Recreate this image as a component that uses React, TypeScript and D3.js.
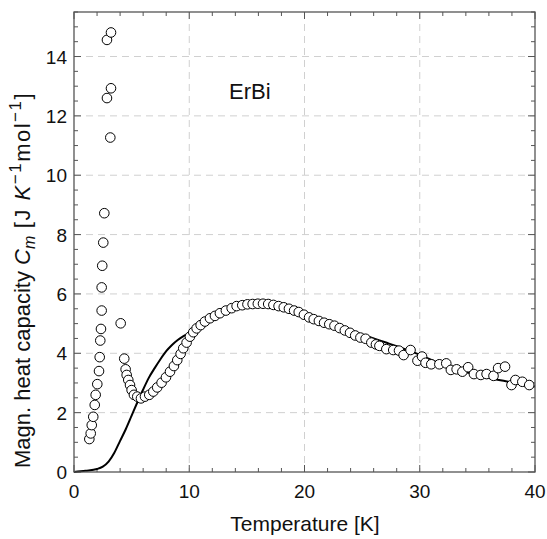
import React from "react";
import * as d3 from "d3";

// Measured magnetic heat capacity (circles): [T (K), Cm]
const measT = [1.33, 1.45, 1.54, 1.67, 1.8, 1.88, 2.02, 2.17, 2.23, 2.28, 2.34, 2.4, 2.4, 2.45, 2.54, 2.63, 2.86, 3.21, 2.86, 3.21, 3.15,
  4.05, 4.36, 4.48, 4.57, 4.71, 4.86, 5.0, 5.2, 5.49, 5.81, 6.16, 6.53, 6.88, 7.22, 7.6, 7.98, 8.33, 8.67, 8.96, 9.25, 9.48, 9.77, 10.06, 10.35, 10.64, 10.99,
  11.36, 11.8, 12.23, 12.66, 13.18, 13.68, 14.11, 14.6, 15.05, 15.5, 15.95, 16.4, 16.85, 17.3, 17.75, 18.2, 18.65, 19.1, 19.5, 19.95, 20.4, 20.8, 21.25, 21.7,
  22.15, 22.6, 23.05, 23.5, 23.95, 24.4, 24.85, 25.3, 25.8, 26.2, 26.5, 27.1, 27.7, 28.2, 28.6, 29.2, 29.8, 30.2, 30.5, 31.0, 31.7, 32.3, 32.7, 33.2, 33.7,
  34.2, 34.7, 35.3, 35.8, 36.4, 36.8, 37.4, 37.96, 38.3, 38.9, 39.5];
const measC = [1.11, 1.3, 1.58, 1.86, 2.26, 2.6, 2.96, 3.4, 3.87, 4.43, 4.82, 5.44, 6.22, 6.95, 7.73, 8.72, 12.6, 12.93, 14.56, 14.81, 11.27,
  5.01, 3.82, 3.46, 3.27, 3.1, 2.93, 2.76, 2.6, 2.54, 2.48, 2.54, 2.6, 2.71, 2.85, 3.01, 3.19, 3.38, 3.57, 3.77, 3.98, 4.17, 4.36, 4.56, 4.71, 4.84, 4.95,
  5.07, 5.18, 5.26, 5.35, 5.44, 5.52, 5.59, 5.62, 5.65, 5.66, 5.67, 5.67, 5.66, 5.63, 5.59, 5.55, 5.5, 5.44, 5.39, 5.3, 5.21, 5.15, 5.09, 5.03,
  4.98, 4.93, 4.85, 4.77, 4.69, 4.6, 4.53, 4.49, 4.36, 4.3, 4.25, 4.14, 4.11, 4.09, 3.94, 4.11, 3.75, 3.89, 3.68, 3.63, 3.63, 3.66, 3.44, 3.46, 3.38,
  3.53, 3.3, 3.27, 3.3, 3.24, 3.5, 3.55, 2.93, 3.1, 3.04, 2.93];

// Calculated curve (solid line)
const calcT = [0, 1, 2, 2.5, 3, 3.5, 4, 4.5, 5, 5.5, 6, 6.5, 7, 7.5, 8, 8.5, 9, 9.5, 10, 10.5, 11, 12, 13, 14, 15, 16, 17, 18, 19, 20,
  21, 22, 23, 24, 25, 26, 27, 28, 29, 30, 31, 32, 33, 34, 35, 36, 37, 38, 39, 40];
const calcC = [0, 0.04, 0.1, 0.18, 0.35, 0.65, 1.05, 1.45, 1.9, 2.35, 2.78, 3.18, 3.5, 3.8, 4.07, 4.28, 4.45, 4.58, 4.68, 4.8, 4.95, 5.22, 5.42, 5.56, 5.64, 5.67, 5.66, 5.58, 5.47, 5.33,
  5.18, 5.03, 4.89, 4.76, 4.63, 4.5, 4.37, 4.24, 4.1, 3.95, 3.78, 3.62, 3.48, 3.37, 3.26, 3.17, 3.09, 3.02, 2.95, 2.88];

const xMajor = [0, 10, 20, 30, 40];
const yMajor = [0, 2, 4, 6, 8, 10, 12, 14];
const label = "ErBi";

const W = 547, H = 539;
const L = 74, R = 535, T = 12, B = 472;

export default function App() {
  const x = d3.scaleLinear().domain([0, 40]).range([L, R]);
  const y = d3.scaleLinear().domain([0, 15.5]).range([B, T]);
  const xMinor = d3.range(0, 40.001, 2);
  const yMinor = d3.range(0, 15.501, 0.5);
  const line = d3.line<number>().x((_, i) => x(calcT[i])).y((d) => y(d)).curve(d3.curveMonotoneX);
  const axisCol = "#555";
  const font = "'Liberation Sans', Arial, Helvetica, sans-serif";
  return (
    <svg width={W} height={H} style={{ position: "absolute", left: 0, top: 0, background: "#fff" }} fontFamily={font}>
      {/* grid */}
      {xMajor.filter((v) => v > 0 && v < 40).map((v) => (
        <line key={"gx" + v} x1={x(v)} x2={x(v)} y1={T} y2={B} stroke="#d0d0d0" strokeDasharray="7,5" strokeWidth={1} />
      ))}
      {yMajor.filter((v) => v > 0).map((v) => (
        <line key={"gy" + v} x1={L} x2={R} y1={y(v)} y2={y(v)} stroke="#d0d0d0" strokeDasharray="7,5" strokeWidth={1} />
      ))}
      {/* ticks */}
      {xMinor.map((v) => {
        const len = v % 10 === 0 ? 7 : 4;
        return (
          <g key={"tx" + v}>
            <line x1={x(v)} x2={x(v)} y1={B} y2={B - len} stroke={axisCol} />
            <line x1={x(v)} x2={x(v)} y1={T} y2={T + len} stroke={axisCol} />
          </g>
        );
      })}
      {yMinor.map((v) => {
        const len = v % 2 === 0 ? 7 : 4;
        return (
          <g key={"ty" + v}>
            <line x1={L} x2={L + len} y1={y(v)} y2={y(v)} stroke={axisCol} />
            <line x1={R} x2={R - len} y1={y(v)} y2={y(v)} stroke={axisCol} />
          </g>
        );
      })}
      {/* data */}
      <path d={line(calcC) || ""} fill="none" stroke="#000" strokeWidth={2} />
      {measT.map((t, i) => (
        <circle key={"c" + i} cx={x(t)} cy={y(measC[i])} r={4.8} fill="#fff" stroke="#000" strokeWidth={1} />
      ))}
      {/* frame */}
      <rect x={L} y={T} width={R - L} height={B - T} fill="none" stroke={axisCol} strokeWidth={1.3} />
      {/* tick labels */}
      {xMajor.map((v) => (
        <text key={"lx" + v} x={x(v)} y={B + 26} textAnchor="middle" fontSize={19} fill="#111">{v}</text>
      ))}
      {yMajor.map((v) => (
        <text key={"ly" + v} x={L - 7} y={y(v) + 7} textAnchor="end" fontSize={19} fill="#111">{v}</text>
      ))}
      <text x={x(15.25)} y={y(12.85) + 8} textAnchor="middle" fontSize={22} fill="#111">{label}</text>
      <text x={305} y={531} textAnchor="middle" fontSize={21} fill="#111">Temperature [K]</text>
      <text transform={`translate(30, 468) rotate(-90)`} textAnchor="start" fontSize={22} fill="#111">
        Magn. heat capacity <tspan fontStyle="italic">C</tspan>
        <tspan fontStyle="italic" fontSize={16} dy={5}>m</tspan>
        <tspan dy={-5} letterSpacing={1.5}> [J </tspan>
        <tspan fontStyle="italic" letterSpacing={1.5}>K</tspan>
        <tspan fontSize={17} dy={-9} letterSpacing={1.5}>−1</tspan>
        <tspan dy={9} letterSpacing={1.5}>mol</tspan>
        <tspan fontSize={17} dy={-9} letterSpacing={1.5}>−1</tspan>
        <tspan dy={9}>]</tspan>
      </text>
    </svg>
  );
}
